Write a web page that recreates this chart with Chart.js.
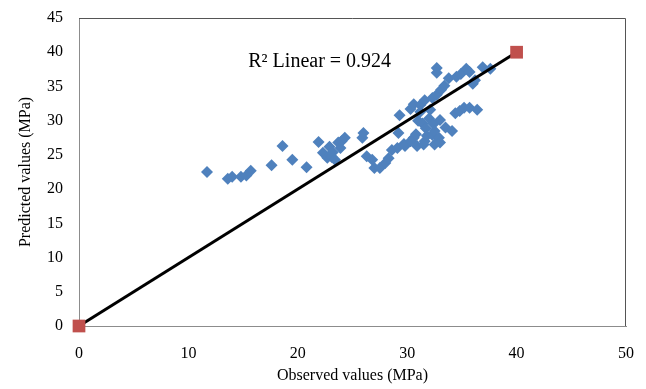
<!DOCTYPE html>
<html>
<head>
<meta charset="utf-8">
<script src="https://cdn.jsdelivr.net/npm/chart.js@4/dist/chart.umd.min.js"></script>
<style>
  html, body { margin: 0; padding: 0; background: #fff; }
  #wrap { width: 646px; height: 389px; }
</style>
</head>
<body>
<div id="wrap"><canvas id="chart1"></canvas></div>
<script>
// Observed vs predicted values (MPa)
const observed = [
  11.7, 13.6, 14.0, 14.8, 15.3, 15.7, 17.6, 18.6, 19.5, 20.8,
  21.9, 22.3, 22.7, 22.9, 23.1, 23.2, 23.4, 23.7, 23.9, 24.0, 24.3,
  25.9, 26.0, 26.3, 26.8, 27.0, 27.5, 28.0, 28.3, 28.6, 29.1, 29.2, 29.3, 29.7,
  29.8, 30.3, 30.3, 30.6, 30.6, 30.8, 30.9, 31.0, 31.2, 31.2, 31.4, 31.5, 31.6,
  31.6, 31.7, 31.8, 32.0, 32.1, 32.3, 32.3, 32.4, 32.5, 32.5, 32.7, 32.7, 32.7,
  32.9, 33.0, 33.0, 33.1, 33.4, 33.5, 33.8, 34.1, 34.4, 34.5, 34.8, 34.9, 35.2,
  35.4, 35.7, 35.7, 36.0, 36.2, 36.4, 36.9, 37.6
];
const predicted = [
  22.5, 21.5, 21.8, 21.8, 22.0, 22.7, 23.5, 26.3, 24.3, 23.2,
  26.9, 25.3, 24.6, 26.2, 24.7, 25.4, 24.3, 26.8, 26.0, 27.0, 27.5,
  27.5, 28.2, 24.8, 24.3, 23.1, 23.1, 23.8, 24.5, 25.7, 26.0, 28.2, 30.8, 26.6,
  26.3, 31.7, 27.0, 32.4, 27.5, 28.0, 26.3, 30.0, 32.3, 31.3, 29.6, 26.5, 33.0,
  27.0, 28.9, 27.8, 30.3, 31.6, 33.3, 27.9, 29.5, 28.5, 26.5, 37.7, 37.0, 33.8,
  27.5, 30.1, 26.8, 34.5, 35.1, 29.0, 36.2, 28.5, 31.1, 36.4, 31.4, 36.8, 31.9,
  37.6, 37.1, 31.9, 35.4, 35.9, 31.6, 37.8, 37.6
];
const lineX = [0, 40];
const lineY = [0, 40];
const xTicks = [0, 10, 20, 30, 40, 50];
const yTicks = [0, 5, 10, 15, 20, 25, 30, 35, 40, 45];
const r2Label = "R\u00B2 Linear = 0.924";

const serif = "'Liberation Serif', 'Times New Roman', serif";

const points = observed.map((x, i) => ({ x: x, y: predicted[i] }));
const linePoints = lineX.map((x, i) => ({ x: x, y: lineY[i] }));

// plot area frame + R² text
const extras = {
  id: "extras",
  afterDatasetsDraw(chart) {
    const { ctx, chartArea, scales } = chart;
    ctx.save();
    ctx.strokeStyle = "#555";
    ctx.lineWidth = 1;
    ctx.beginPath();
    ctx.moveTo(chartArea.left, chartArea.top + 0.5);
    ctx.lineTo(chartArea.right - 0.5, chartArea.top + 0.5);
    ctx.lineTo(chartArea.right - 0.5, chartArea.bottom);
    ctx.stroke();
    ctx.fillStyle = "#000";
    ctx.font = "20px " + serif;
    ctx.textAlign = "center";
    ctx.textBaseline = "middle";
    ctx.fillText(r2Label, scales.x.getPixelForValue(22), scales.y.getPixelForValue(38.6));
    ctx.restore();
  },
};

const ctx1 = document.getElementById("chart1").getContext("2d");
const myChart1 = new Chart(ctx1, {
  type: "scatter",
  data: {
    datasets: [
      {
        label: "Line",
        data: linePoints,
        showLine: true,
        clip: false,
        borderColor: "#000",
        borderWidth: 3,
        pointStyle: "rect",
        pointRadius: 9,
        pointBackgroundColor: "#C0504D",
        pointBorderColor: "#C0504D",
        pointBorderWidth: 0,
      },
      {
        label: "Values",
        data: points,
        pointStyle: "rectRot",
        pointRadius: 6,
        pointBackgroundColor: "#4F81BD",
        pointBorderColor: "#4F81BD",
        pointBorderWidth: 0,
      },
    ],
  },
  options: {
    responsive: true,
    maintainAspectRatio: false,
    animation: false,
    layout: { autoPadding: false, padding: { left: 0, right: 20, top: 18, bottom: 0 } },
    plugins: { legend: { display: false }, tooltip: { enabled: false } },
    scales: {
      x: {
        type: "linear",
        min: 0,
        max: 50,
        afterBuildTicks: (s) => { s.ticks = xTicks.map((v) => ({ value: v })); },
        afterFit: (s) => { s.height = 63; s.paddingLeft = 0; s.paddingRight = 0; },
        grid: { display: false, drawTicks: false },
        border: { display: true, color: "#8c8c8c", width: 1 },
        ticks: { color: "#000", font: { family: serif, size: 16 }, padding: 18 },
        title: { display: true, text: "Observed values (MPa)", color: "#000", font: { family: serif, size: 16 }, padding: { top: 11 } },
      },
      y: {
        type: "linear",
        min: 0,
        max: 45,
        afterBuildTicks: (s) => { s.ticks = yTicks.map((v) => ({ value: v })); },
        afterFit: (s) => { s.width = 79; s.paddingTop = 0; s.paddingBottom = 0; },
        grid: { display: false, drawTicks: false },
        border: { display: true, color: "#8c8c8c", width: 1 },
        ticks: { color: "#000", font: { family: serif, size: 16 }, padding: 16 },
        title: { display: true, text: "Predicted values (MPa)", color: "#000", font: { family: serif, size: 16 }, padding: { top: 16, bottom: 0 } },
      },
    },
  },
  plugins: [extras],
});
</script>
</body>
</html>
